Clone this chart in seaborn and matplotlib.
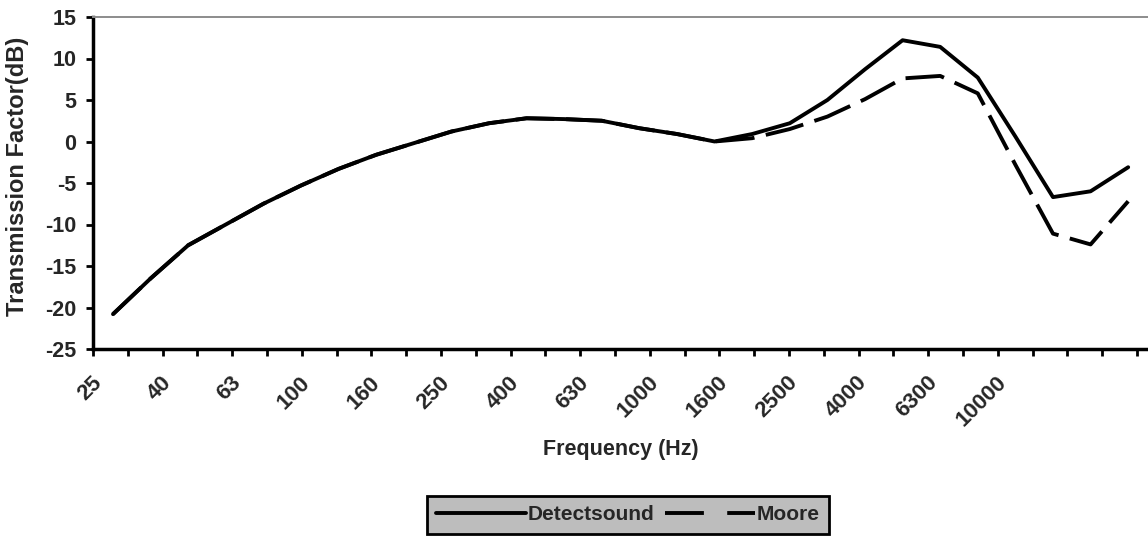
import numpy as np
import pandas as pd
import matplotlib
matplotlib.use("Agg")
import matplotlib.pyplot as plt
from matplotlib.lines import Line2D
import seaborn as sns

# 1/3 octave bands (Hz) where the curves are sampled
bands = ['25', '31.5', '40', '50', '63', '80', '100', '125', '160', '200',
         '250', '315', '400', '500', '630', '800', '1000', '1250', '1600', '2000',
         '2500', '3150', '4000', '5000', '6300', '8000', '10000', '12500']

detectsound = [-20.8, -16.5, -12.5, -10.0, -7.5, -5.3, -3.3, -1.6, -0.2, 1.2,
               2.2, 2.8, 2.7, 2.5, 1.6, 0.9, 0.0, 0.9, 2.2, 5.0,
               8.7, 12.2, 11.4, 7.7, 0.6, -6.7, -6.0, -3.1]

moore = [-20.8, -16.5, -12.5, -10.0, -7.5, -5.3, -3.3, -1.6, -0.2, 1.2,
         2.2, 2.8, 2.7, 2.5, 1.6, 0.9, 0.0, 0.4, 1.5, 3.0,
         5.1, 7.6, 7.9, 5.8, -2.8, -11.1, -12.4, -7.2]

tick_labels = ['25', '40', '63', '100', '160', '250', '400', '630', '1000',
               '1600', '2500', '4000', '6300', '10000']
y_ticks = [-25, -20, -15, -10, -5, 0, 5, 10, 15]

df = pd.DataFrame({
    'pos': list(range(len(bands))) * 2,
    'value': moore + detectsound,
    'source': ['Moore'] * len(bands) + ['Detectsound'] * len(bands),
})

sns.set_style('ticks')
plt.rcParams['font.family'] = ['Liberation Sans', 'DejaVu Sans']
plt.rcParams['font.weight'] = 'bold'

fig = plt.figure(figsize=(11.48, 5.36), dpi=100)
ax = fig.add_axes([93 / 1148, 187 / 536, 1055 / 1148, 332 / 536])

dash_map = {'Detectsound': '', 'Moore': (10, 3)}
sns.lineplot(data=df, x='pos', y='value', style='source', dashes=dash_map,
             style_order=['Moore', 'Detectsound'], color='black',
             linewidth=2.8, sort=False, legend=False, ax=ax)

# category axis: tick marks every band slot, labels every second slot
left, right = -0.532, 27.527
step = 34.8 / 37.6
ax.set_xlim(left, right)
ax.set_ylim(-25, 15)
ax.set_xticks([left + k * step for k in range(31)], minor=True)
ax.set_xticks([left + 2 * j * step + 0.15 for j in range(len(tick_labels))])
ax.set_xticklabels(tick_labels, rotation=45, ha='right', va='center',
                   rotation_mode='anchor', fontsize=16, fontweight='bold')
ax.tick_params(axis='x', which='major', length=0, pad=22)
ax.tick_params(axis='x', which='minor', length=5, width=2, direction='out', color='black')
ax.set_yticks(y_ticks)
ax.set_yticklabels([str(v) for v in y_ticks], fontsize=15.5, fontweight='bold')
ax.tick_params(axis='y', length=5, width=2, direction='out', pad=7, color='black')

ax.set_xlabel('Frequency (Hz)', fontsize=15.5, fontweight='bold')
ax.xaxis.set_label_coords(0.5, -0.27)
ax.set_ylabel('Transmission Factor(dB)', fontsize=17, fontweight='bold')
ax.yaxis.set_label_coords(-0.061, 0.52)

for side in ['left', 'bottom']:
    ax.spines[side].set_color('black')
    ax.spines[side].set_linewidth(2.5)
ax.spines['top'].set_color('#8c8c8c')
ax.spines['top'].set_linewidth(1.4)
ax.spines['right'].set_visible(False)

handles = [Line2D([], [], color='black', lw=2.8),
           Line2D([], [], color='black', lw=2.8, dashes=(10, 6))]
leg = fig.legend(handles, ['Detectsound', 'Moore'], loc='upper center',
                 bbox_to_anchor=(628 / 1148, 1 - 496 / 536), ncol=2,
                 prop={'weight': 'bold', 'size': 15}, handlelength=4.3,
                 handletextpad=0.1, columnspacing=0.5, borderpad=0.45,
                 borderaxespad=0, fancybox=False, framealpha=1)
leg.get_frame().set_facecolor('#bdbdbd')
leg.get_frame().set_edgecolor('black')
leg.get_frame().set_linewidth(2)

fig.savefig('out.png', dpi=100)
